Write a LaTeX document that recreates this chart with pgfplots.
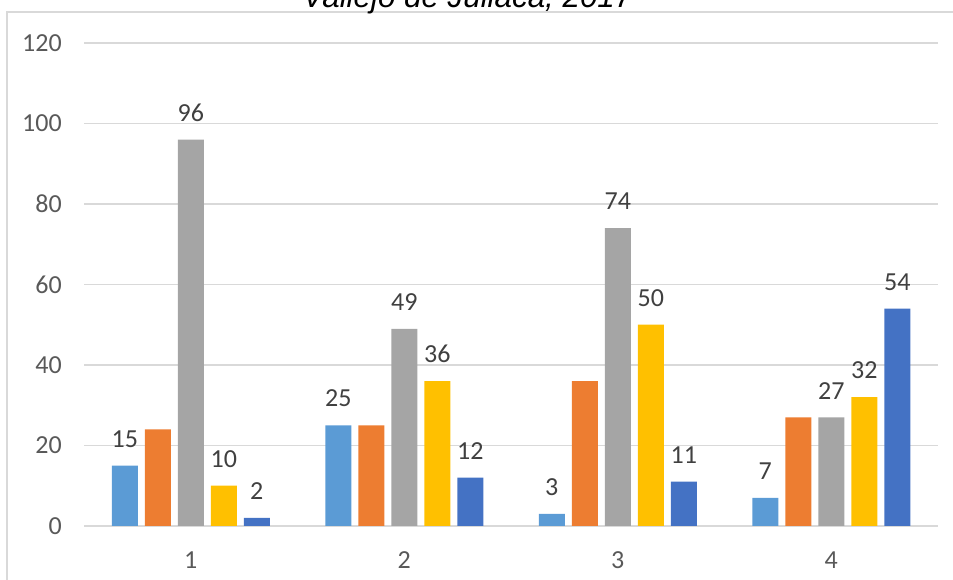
\documentclass[border=0pt]{standalone}
\usepackage{fontspec}
\setmainfont{Carlito}
\newfontfamily\titlefont{Liberation Sans}
\usepackage{pgfplots}
\pgfplotsset{compat=1.18}
\definecolor{c1}{HTML}{5B9BD5}
\definecolor{c2}{HTML}{ED7D31}
\definecolor{c3}{HTML}{A5A5A5}
\definecolor{c4}{HTML}{FFC000}
\definecolor{c5}{HTML}{4472C4}
\definecolor{gridc}{HTML}{D9D9D9}
\definecolor{tickc}{HTML}{595959}
\definecolor{labc}{HTML}{404040}
\begin{document}
\begin{tikzpicture}[x=0.75pt,y=0.75pt]
\useasboundingbox (0,0) rectangle (953,580);
\draw[color=gridc, line width=1.1pt] (7,-20) -- (7,568) -- (990,568);
\node[font=\titlefont\itshape\fontsize{23.5}{26}\selectfont, anchor=base, inner sep=0pt] at (467.5,572) {Vallejo de Jullaca, 2017};
\begin{axis}[
  at={(63pt,40.5pt)}, anchor=south west,
  scale only axis, width=640.5pt, height=362.25pt,
  xmin=0.5, xmax=4.5, ymin=0, ymax=120,
  ytick={0,20,...,120}, xtick={1,2,3,4},
  /pgf/number format/assume math mode=true,
  axis line style={draw=none},
  major tick length=0pt,
  ymajorgrids, grid style={color=gridc, line width=0.9pt},
  ticklabel style={font=\fontsize{19.5}{21}\selectfont, color=tickc, inner sep=0pt},
  yticklabel style={anchor=east, xshift=-16.5pt},
  xticklabel style={anchor=north, yshift=-19pt},
  ybar=5.25pt, bar width=19.5pt,
  every node near coord/.append style={font=\fontsize{19.5}{21}\selectfont, color=labc, inner sep=0pt, anchor=south, yshift=13.5pt},
  clip=false,
]
\addplot[fill=c1, draw=none, nodes near coords] coordinates {(1,15) (2,25) (3,3) (4,7)};
\addplot[fill=c2, draw=none] coordinates {(1,24) (2,25) (3,36) (4,27)};
\addplot[fill=c3, draw=none, nodes near coords] coordinates {(1,96) (2,49) (3,74) (4,27)};
\addplot[fill=c4, draw=none, nodes near coords] coordinates {(1,10) (2,36) (3,50) (4,32)};
\addplot[fill=c5, draw=none, nodes near coords] coordinates {(1,2) (2,12) (3,11) (4,54)};
\end{axis}
\end{tikzpicture}
\end{document}
